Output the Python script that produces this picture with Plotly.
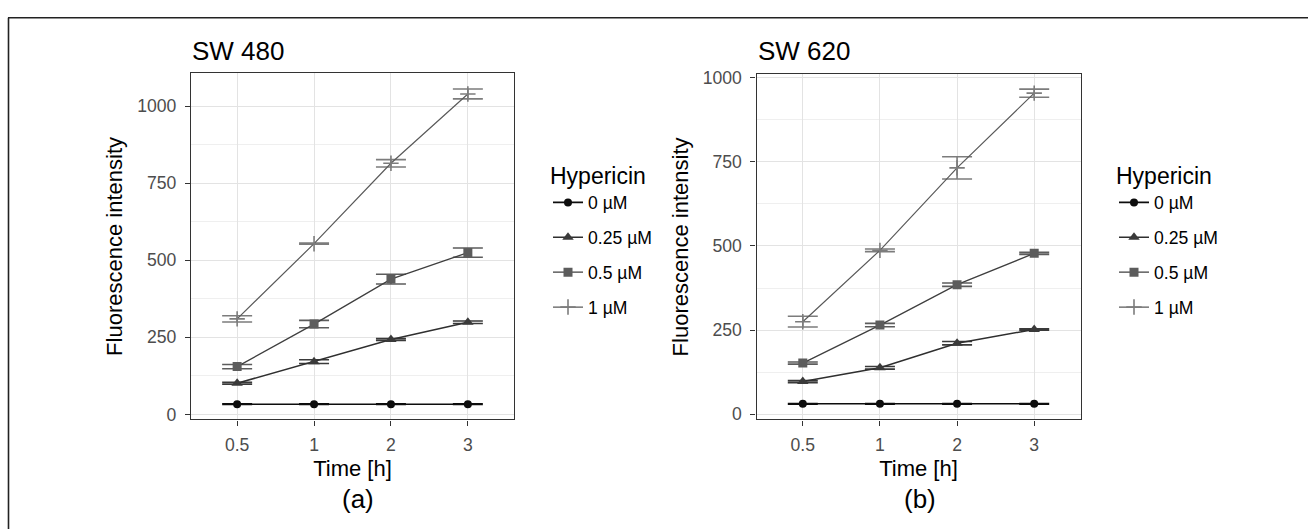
import plotly.graph_objects as go

# ---------------- data ----------------
times = ["0.5", "1", "2", "3"]
series_names = ["0 µM", "0.25 µM", "0.5 µM", "1 µM"]

# SW 480
sw480_0 = [33, 33, 33, 33]
sw480_025 = [101, 171, 243, 299]
sw480_05 = [155, 293, 439, 525]
sw480_1 = [310, 554, 815, 1040]
sw480_0_err = [1, 1, 1, 1]
sw480_025_err = [3, 6, 3, 4]
sw480_05_err = [7, 12, 16, 15]
sw480_1_err = [10, 2, 12, 16]

# SW 620
sw620_0 = [31, 31, 31, 31]
sw620_025 = [97, 138, 211, 252]
sw620_05 = [152, 265, 385, 478]
sw620_1 = [275, 487, 732, 954]
sw620_0_err = [1, 1, 1, 1]
sw620_025_err = [3, 4, 5, 2]
sw620_05_err = [3, 5, 5, 3]
sw620_1_err = [16, 4, 33, 12]

panel_titles = ["SW 480", "SW 620"]
panel_tags = ["(a)", "(b)"]
legend_title = "Hypericin"
x_title = "Time [h]"
y_title = "Fluorescence intensity"
y_ticks = [0, 250, 500, 750, 1000]

# ---------------- style ----------------
FONT = "Liberation Sans, Arial, sans-serif"
W, H = 1308, 529
marker_colors = ["#0d0d0d", "#3a3a3a", "#5c5c5c", "#7c7c7c"]
line_colors = ["#0d0d0d", "#2f2f2f", "#3f3f3f", "#5a5a5a"]
symbols = ["circle", "triangle-up", "square", "cross-thin"]
msizes = [8, 10, 9, 11]
lwidths = [1.6, 1.5, 1.3, 1.2]

def px_x(v):
    return v / W

def px_y(v):
    return 1 - v / H

fig = go.Figure()

panels = [
    (
        [sw480_0, sw480_025, sw480_05, sw480_1],
        [sw480_0_err, sw480_025_err, sw480_05_err, sw480_1_err],
        "x", "y", "legend",
    ),
    (
        [sw620_0, sw620_025, sw620_05, sw620_1],
        [sw620_0_err, sw620_025_err, sw620_05_err, sw620_1_err],
        "x2", "y2", "legend2",
    ),
]

for pi, (vals, errs, xa, ya, lg) in enumerate(panels):
    for si in range(4):
        fig.add_trace(
            go.Scatter(
                x=times,
                y=vals[si],
                name=series_names[si],
                mode="lines+markers",
                xaxis=xa,
                yaxis=ya,
                legend=lg,
                legendgroup=f"{lg}_{si}",
                line=dict(color=line_colors[si], width=lwidths[si]),
                marker=dict(
                    symbol=symbols[si],
                    size=msizes[si],
                    color=marker_colors[si],
                    line=dict(color=marker_colors[si], width=1.6 if si == 3 else 0),
                ),
                error_y=dict(
                    type="data",
                    array=errs[si],
                    visible=True,
                    color=marker_colors[si],
                    thickness=1.6,
                    width=15,
                ),
            )
        )

axis_common = dict(
    showline=True,
    linecolor="#333333",
    linewidth=1.2,
    mirror=True,
    ticks="outside",
    ticklen=5,
    tickwidth=1.1,
    tickcolor="#333333",
    showgrid=True,
    gridcolor="#e3e3e3",
    gridwidth=1.3,
    zeroline=False,
    tickfont=dict(family=FONT, size=17.6, color="#4d4d4d"),
    title_font=dict(family=FONT, size=22, color="#000000"),
)

xdom1 = [px_x(191), px_x(514)]
xdom2 = [px_x(756.5), px_x(1080.5)]
ydom1 = [px_y(422), px_y(68)]
ydom2 = [px_y(422), px_y(69)]

xaxis_cfg = dict(
    axis_common,
    type="category",
    categoryorder="array",
    categoryarray=times,
    range=[-0.6, 3.6],
    title_text=x_title,
    title_standoff=6,
    ticklabelstandoff=4,
)
yaxis_cfg = dict(
    axis_common,
    tickvals=y_ticks,
    title_text=y_title,
    title_standoff=8,
    ticklabelstandoff=5,
    minor=dict(
        dtick=125,
        tick0=125,
        showgrid=True,
        gridcolor="#efefef",
        gridwidth=0.8,
        ticks="",
    ),
)

legend_common = dict(
    xanchor="left",
    yanchor="top",
    title=dict(text=legend_title, font=dict(family=FONT, size=23, color="#000")),
    font=dict(family=FONT, size=17.6, color="#000"),
    bgcolor="rgba(0,0,0,0)",
    tracegroupgap=9,
    itemwidth=30,
)

fig.update_layout(
    width=W,
    height=H,
    margin=dict(l=0, r=0, t=0, b=0),
    paper_bgcolor="white",
    plot_bgcolor="white",
    font=dict(family=FONT, size=17.6, color="#000000"),
    xaxis=dict(xaxis_cfg, domain=xdom1, anchor="y"),
    yaxis=dict(yaxis_cfg, domain=ydom1, anchor="x", range=[-16.5, 1106.6]),
    xaxis2=dict(xaxis_cfg, domain=xdom2, anchor="y2"),
    yaxis2=dict(yaxis_cfg, domain=ydom2, anchor="x2", range=[-15.4, 1009.6]),
    legend=dict(legend_common, x=px_x(548), y=px_y(151)),
    legend2=dict(legend_common, x=px_x(1114), y=px_y(151)),
)

annotations = []
for i, (t, x_left) in enumerate(zip(panel_titles, [191, 756.5])):
    annotations.append(
        dict(
            text=t,
            xref="paper",
            yref="paper",
            x=px_x(x_left - 1),
            y=px_y(45),
            xanchor="left",
            yanchor="middle",
            showarrow=False,
            font=dict(family=FONT, size=26, color="#000"),
        )
    )
for tag, xc in zip(panel_tags, [358, 920]):
    annotations.append(
        dict(
            text=tag,
            xref="paper",
            yref="paper",
            x=px_x(xc),
            y=px_y(503),
            xanchor="center",
            yanchor="middle",
            showarrow=False,
            font=dict(family=FONT, size=26, color="#000"),
        )
    )
fig.update_layout(annotations=annotations)

# outer frame (top and left edges visible)
fig.add_shape(type="line", xref="paper", yref="paper",
              x0=px_x(8), x1=1.01, y0=px_y(11), y1=px_y(11),
              line=dict(color="#222", width=1.6))
fig.add_shape(type="line", xref="paper", yref="paper",
              x0=px_x(8.5), x1=px_x(8.5), y0=px_y(11), y1=-0.01,
              line=dict(color="#222", width=1.6))

fig.write_html("out.html")
